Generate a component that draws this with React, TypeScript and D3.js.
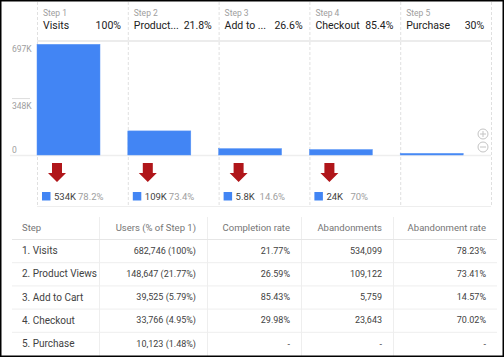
import React from "react";
import * as d3 from "d3";

const stepNames = ["Visits", "Product Views", "Add to Cart", "Checkout", "Purchase"];
const headerNames = ["Visits", "Product...", "Add to ...", "Checkout", "Purchase"];
const headerPct = ["100%", "21.8%", "26.6%", "85.4%", "30%"];
const users = [682746, 148647, 39525, 33766, 10123];
const usersPct = ["100%", "21.77%", "5.79%", "4.95%", "1.48%"];
const completionRate = ["21.77%", "26.59%", "85.43%", "29.98%", "-"];
const abandonments = ["534,099", "109,122", "5,759", "23,643", "-"];
const abandonmentRate = ["78.23%", "73.41%", "14.57%", "70.02%", "-"];
const dropValue = ["534K", "109K", "5.8K", "24K"];
const dropPct = ["78.2%", "73.4%", "14.6%", "70%"];
const yTicks = [0, 348000, 697000];
const yTickLabels = ["0", "348K", "697K"];
const tableHeaders = ["Step", "Users (% of Step 1)", "Completion rate", "Abandonments", "Abandonment rate"];

const W = 504;
const H = 357;
const FONT = "Roboto, 'Noto Sans', Arial, sans-serif";

export default function App() {
  const x = d3.scaleBand<number>().domain(d3.range(5)).range([37, 491]).paddingInner(0).paddingOuter(0);
  const colW = x.bandwidth();
  const barW = 63;
  const y = d3.scaleLinear().domain([0, 697000]).range([155, 42]);
  const fmt = d3.format(",");

  const colEdges = [12, 99, 207, 301, 393, 497];
  const headerTop = 217;
  const rowH = 23.2;
  const headerBottom = 239;

  const arrow = (cx: number) => {
    const p: [number, number][] = [
      [cx - 5, 163],
      [cx + 5, 163],
      [cx + 5, 173],
      [cx + 9, 173],
      [cx, 182],
      [cx - 9, 173],
      [cx - 5, 173],
    ];
    return d3.line()(p) + "Z";
  };

  return (
    <svg
      width={W}
      height={H}
      style={{ position: "fixed", left: 0, top: 0, background: "#fff", fontFamily: FONT }}
    >
      <rect x={0} y={0} width={W} height={H} fill="#fff" />
      {/* dashed column lines */}
      {d3.range(6).map((i) => {
        const xx = i < 5 ? (x(i) as number) : 491;
        return (
          <line key={"v" + i} x1={xx + 0.5} x2={xx + 0.5} y1={2} y2={207} stroke="#e0e0e0" strokeDasharray="3,2" />
        );
      })}
      {/* header line */}
      <line x1={37} x2={491} y1={41} y2={41} stroke="#e6e6e6" strokeWidth={1.5} />
      {/* baseline */}
      <line x1={10} x2={491} y1={155.5} y2={155.5} stroke="#eeeeee" strokeWidth={1.5} />
      <line x1={37} x2={491} y1={206.5} y2={206.5} stroke="#eeeeee" />
      {/* y tick line at 348K */}
      <line x1={12} x2={30} y1={y(348000)} y2={y(348000)} stroke="#dddddd" />
      {yTicks.map((t, i) => {
        const yy = i === 0 ? y(t) - 5 : y(t) + 7;
        return (
          <text key={"yt" + i} x={12} y={yy} dy="0.35em" fontSize={8.5} fill="#9e9e9e">
            {yTickLabels[i]}
          </text>
        );
      })}
      {/* step headers */}
      {headerNames.map((n, i) => {
        const x0 = x(i) as number;
        return (
          <g key={"h" + i}>
            <text x={x0 + 6} y={13} dy="0.35em" fontSize={8.5} fill="#9e9e9e">
              {"Step " + (i + 1)}
            </text>
            <text x={x0 + 6} y={25.5} dy="0.35em" fontSize={10.5} fill="#212121">
              {n}
            </text>
            <text x={x0 + 84} y={25.5} dy="0.35em" fontSize={10.5} fill="#212121" textAnchor="end">
              {headerPct[i]}
            </text>
          </g>
        );
      })}
      {/* bars */}
      {users.map((u, i) => (
        <rect
          key={"b" + i}
          x={x(i) as number}
          y={y(u)}
          width={barW}
          height={y(0) - y(u)}
          fill="#4285f4"
          stroke="#5a95f5"
          strokeWidth={0.5}
        />
      ))}
      {/* zoom icons */}
      {[134, 147].map((cy, i) => (
        <g key={"z" + i}>
          <circle cx={483} cy={cy} r={5} fill="none" stroke="#c4c4c4" />
          <line x1={480} x2={486} y1={cy} y2={cy} stroke="#c4c4c4" />
          {i === 0 && <line x1={483} x2={483} y1={cy - 3} y2={cy + 3} stroke="#c4c4c4" />}
        </g>
      ))}
      {/* drop-off arrows and legends */}
      {dropValue.map((v, i) => {
        const x0 = x(i) as number;
        return (
          <g key={"d" + i}>
            <path d={arrow(x0 + 20)} fill="#b0161a" />
            <rect x={x0 + 5} y={192} width={8.5} height={8.5} fill="#4285f4" />
            <text x={x0 + 17} y={196.5} dy="0.35em" fontSize={9.5} fill="#424242">
              {v}
            </text>
            <text x={x0 + 41} y={196.5} dy="0.35em" fontSize={9.5} fill="#9e9e9e">
              {dropPct[i]}
            </text>
          </g>
        );
      })}
      {/* table */}
      {colEdges.slice(1, 5).map((e, i) => (
        <line key={"tc" + i} x1={e + 0.5} x2={e + 0.5} y1={headerTop} y2={H} stroke="#eeeeee" />
      ))}
      <line x1={12} x2={497} y1={headerBottom + 0.5} y2={headerBottom + 0.5} stroke="#e6e6e6" />
      {tableHeaders.map((h, j) => (
        <text
          key={"th" + j}
          x={j === 0 ? colEdges[0] + 10 : colEdges[j + 1] - 11}
          y={228}
          dy="0.35em"
          fontSize={9.5}
          fill="#757575"
          textAnchor={j === 0 ? "start" : "end"}
        >
          {h}
        </text>
      ))}
      {stepNames.map((s, r) => {
        const cy = headerBottom + rowH * r + rowH / 2;
        const cells = [
          fmt(users[r]) + " (" + usersPct[r] + ")",
          completionRate[r],
          abandonments[r],
          abandonmentRate[r],
        ];
        return (
          <g key={"r" + r}>
            {r < 4 && (
              <line
                x1={12}
                x2={497}
                y1={headerBottom + rowH * (r + 1) + 0.5}
                y2={headerBottom + rowH * (r + 1) + 0.5}
                stroke="#eeeeee"
              />
            )}
            <text x={22} y={cy} dy="0.35em" fontSize={10} fill="#424242">
              {r + 1 + ". " + s}
            </text>
            {cells.map((c, j) => (
              <text
                key={"c" + j}
                x={colEdges[j + 2] - 11}
                y={cy}
                dy="0.35em"
                fontSize={9}
                fill="#424242"
                textAnchor="end"
              >
                {c}
              </text>
            ))}
          </g>
        );
      })}
      {/* outer border */}
      <rect x={0.75} y={0.75} width={W - 1.5} height={H - 1.5} fill="none" stroke="#000" strokeWidth={1.5} />
    </svg>
  );
}
